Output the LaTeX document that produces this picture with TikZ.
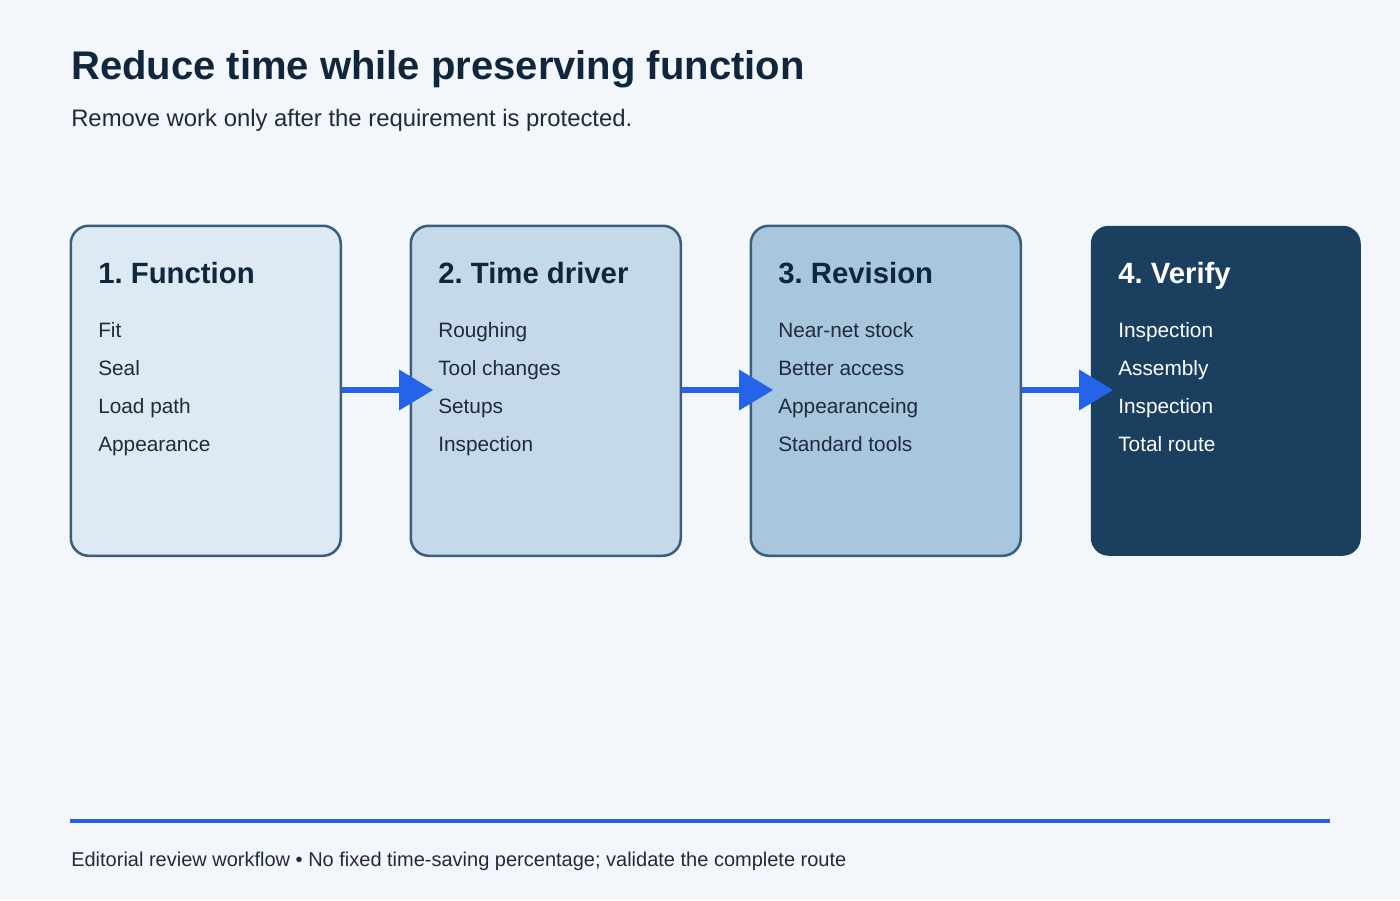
\documentclass[tikz,border=0pt]{standalone}
\usepackage{fontspec}
\setmainfont{Liberation Sans}
\frenchspacing
\definecolor{bg}{HTML}{F3F7FB}
\definecolor{ink}{HTML}{10263D}
\definecolor{txt}{HTML}{1E2B3B}
\definecolor{edge}{HTML}{3A5E7E}
\definecolor{fa}{HTML}{DDE9F3}
\definecolor{fb}{HTML}{C5D9E9}
\definecolor{fc}{HTML}{A8C6DD}
\definecolor{fd}{HTML}{1A3F5F}
\definecolor{accent}{HTML}{2563EB}
\tikzset{
  x=0.75pt, y=-0.75pt,
  card/.style={draw=edge, line width=1.9pt, rounded corners=13.5pt, minimum width=202.5pt, minimum height=247.5pt, inner sep=0pt, anchor=north west},
  darkcard/.style={card, draw=none},
  ttl/.style={anchor=base west, inner sep=0pt, font=\bfseries\fontsize{22}{26}\selectfont},
  item/.style={anchor=base west, inner sep=0pt, font=\fontsize{15.6}{19}\selectfont, text=txt},
  flow/.style={draw=accent, line width=4.5pt},
  tip/.style={fill=accent, draw=none},
}
\begin{document}
\begin{tikzpicture}
\fill[bg] (0,0) rectangle (1400,900);
\useasboundingbox (0,0) rectangle (1400,900);
\node[anchor=base west, inner sep=0pt, text=ink, font=\bfseries\fontsize{30}{36}\selectfont] (title) at (71,79) {Reduce time while preserving function};
\node[anchor=base west, inner sep=0pt, text=txt, font=\fontsize{17.9}{22}\selectfont] (sub) at (71,126) {Remove work only after the requirement is protected.};

\node[card, fill=fa] (b1) at (69.5,224.5) {};
\node[card, fill=fb] (b2) at (409.5,224.5) {};
\node[card, fill=fc] (b3) at (749.5,224.5) {};
\node[darkcard, fill=fd] (b4) at (1089.5,224.5) {};

% arrows
\foreach \s/\t in {b1/b2, b2/b3, b3/b4}{
  \coordinate (\s s) at ([yshift=-165.5*0.75pt]\s.north east);
  \coordinate (\s m) at ([xshift=57*0.75pt]\s s);
  \coordinate (\s e) at ([xshift=91*0.75pt]\s s);
  \draw[flow] (\s s) -- (\s m);
  \fill[tip] (\s e) -- ([yshift=20.5*0.75pt]\s m) -- ([yshift=-20.5*0.75pt]\s m) -- cycle;
}

\node[ttl, text=ink] (t1) at (98,283) {1. Function};
\node[item] (i11) at (98,337) {Fit};
\node[item] (i12) at (98,375) {Seal};
\node[item] (i13) at (98,413) {Load path};
\node[item] (i14) at (98,451) {Appearance};

\node[ttl, text=ink] (t2) at (438,283) {2. Time driver};
\node[item] (i21) at (438,337) {Roughing};
\node[item] (i22) at (438,375) {Tool changes};
\node[item] (i23) at (438,413) {Setups};
\node[item] (i24) at (438,451) {Inspection};

\node[ttl, text=ink] (t3) at (778,283) {3. Revision};
\node[item] (i31) at (778,337) {Near-net stock};
\node[item] (i32) at (778,375) {Better access};
\node[item] (i33) at (778,413) {Appearanceing};
\node[item] (i34) at (778,451) {Standard tools};

\node[ttl, text=white] (t4) at (1118,283) {4. Verify};
\node[item, text=white] (i41) at (1118,337) {Inspection};
\node[item, text=white] (i42) at (1118,375) {Assembly};
\node[item, text=white] (i43) at (1118,413) {Inspection};
\node[item, text=white] (i44) at (1118,451) {Total route};

\coordinate (fl) at (70,821);
\coordinate (fr) at (1330,821);
\draw[draw=accent, line width=3pt] (fl) -- (fr);
\node[anchor=base west, inner sep=0pt, text=txt, font=\fontsize{15}{18}\selectfont] (foot) at (71,866) {Editorial review workflow • No fixed time-saving percentage; validate the complete route};
\end{tikzpicture}
\end{document}
